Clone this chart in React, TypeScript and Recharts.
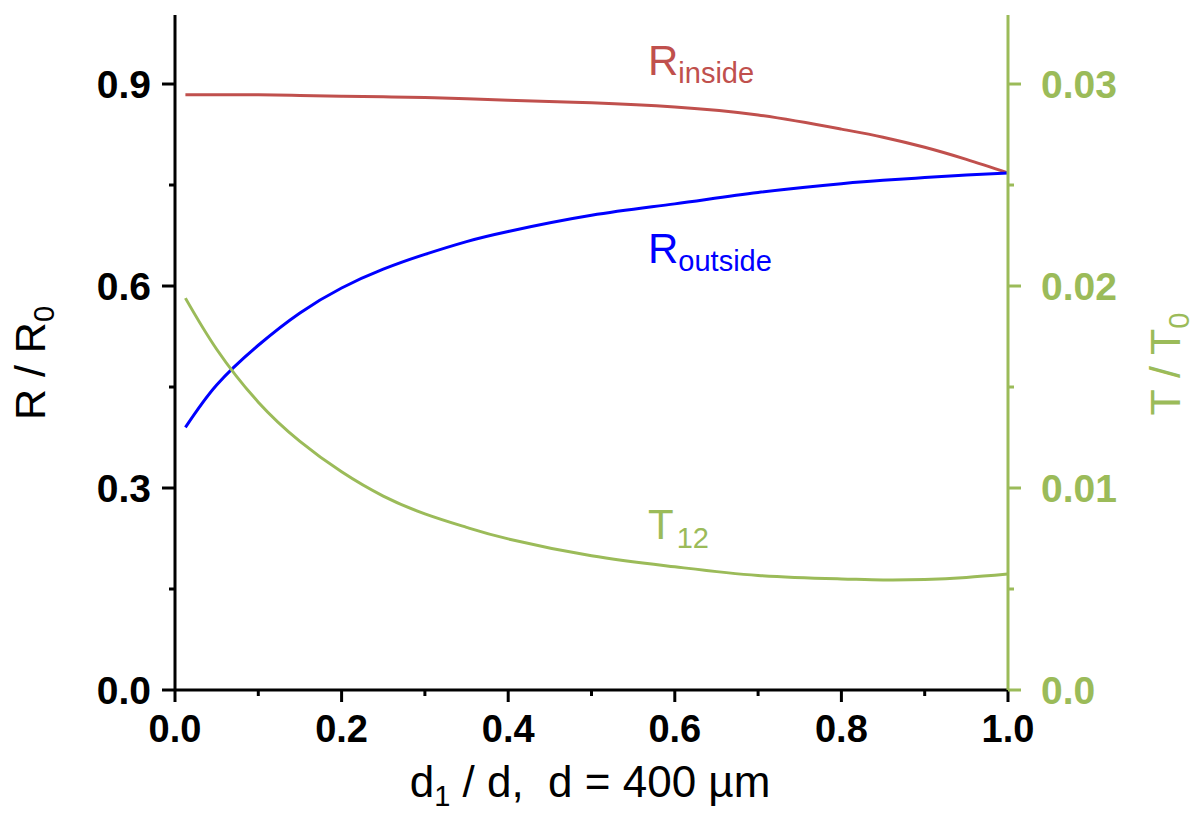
import { LineChart, Line, XAxis, YAxis } from "recharts"

// d1/d sample positions
const xValues = [0.0125, 0.05, 0.1, 0.15, 0.2, 0.25, 0.3, 0.35, 0.4, 0.5, 0.6, 0.7, 0.8, 0.85, 0.9, 0.95, 1.0]
// R / R0
const rInside = [0.884, 0.884, 0.884, 0.883, 0.882, 0.881, 0.880, 0.878, 0.876, 0.872, 0.866, 0.854, 0.833, 0.821, 0.806, 0.788, 0.768]
const rOutside = [0.390, 0.453, 0.512, 0.560, 0.597, 0.625, 0.647, 0.666, 0.681, 0.705, 0.722, 0.739, 0.752, 0.757, 0.761, 0.765, 0.768]
// T / T0
const t12 = [0.0194, 0.01687, 0.01425, 0.01231, 0.01080, 0.00960, 0.00872, 0.00805, 0.00748, 0.00665, 0.00610, 0.00567, 0.00550, 0.00545, 0.00547, 0.00557, 0.00574]

const xMajorTicks = [0, 0.2, 0.4, 0.6, 0.8, 1.0]
const xMinorTicks = [0.1, 0.3, 0.5, 0.7, 0.9]
const leftMajorTicks = [0, 0.3, 0.6, 0.9]
const leftMinorTicks = [0.15, 0.45, 0.75]
const rightMajorTicks = [0, 0.01, 0.02, 0.03]
const rightMinorTicks = [0.005, 0.015, 0.025]

const data = xValues.map((x, i) => ({ x, rInside: rInside[i], rOutside: rOutside[i], t12: t12[i] }))

const FONT = "'Liberation Sans', Arial, sans-serif"
const RED = "#c0504d"
const BLUE = "#0000ff"
const GREEN = "#9bbb59"

const isMajor = (v: number, majors: number[]) => majors.some((m) => Math.abs(m - v) < 1e-9)
const sortTicks = (a: number[], b: number[]) => [...a, ...b].sort((p, q) => p - q)

function LeftTick({ x, y, payload }: any) {
  const major = isMajor(payload.value, leftMajorTicks)
  return (
    <g>
      <line x1={x} x2={x - (major ? 13 : 6)} y1={y} y2={y} stroke="#000" strokeWidth={3} />
      {major && (
        <text x={x - 24} y={y} textAnchor="end" dominantBaseline="central" fontFamily={FONT} fontWeight="bold" fontSize={39} fill="#000">
          {payload.value.toFixed(1)}
        </text>
      )}
    </g>
  )
}

function RightTick({ x, y, payload }: any) {
  const major = isMajor(payload.value, rightMajorTicks)
  return (
    <g>
      <line x1={x} x2={x + (major ? 13 : 6)} y1={y} y2={y} stroke={GREEN} strokeWidth={3} />
      {major && (
        <text x={x + 33} y={y} textAnchor="start" dominantBaseline="central" fontFamily={FONT} fontWeight="bold" fontSize={39} fill={GREEN}>
          {payload.value === 0 ? "0.0" : payload.value.toFixed(2)}
        </text>
      )}
    </g>
  )
}

function BottomTick({ x, y, payload }: any) {
  const major = isMajor(payload.value, xMajorTicks)
  return (
    <g>
      <line x1={x} x2={x} y1={y} y2={y + (major ? 12 : 6)} stroke="#000" strokeWidth={3} />
      {major && (
        <text x={x} y={y + 52} textAnchor="middle" fontFamily={FONT} fontWeight="bold" fontSize={38} fill="#000">
          {payload.value.toFixed(1)}
        </text>
      )}
    </g>
  )
}

export default function App() {
  return (
    <div style={{ position: "absolute", left: 0, top: 0, width: 1196, height: 821, background: "#fff" }}>
      <LineChart width={1196} height={821} data={data} margin={{ top: 15, right: 128, bottom: 71, left: 115 }}>
        <XAxis
          type="number"
          dataKey="x"
          domain={[0, 1]}
          ticks={sortTicks(xMajorTicks, xMinorTicks)}
          interval={0}
          height={60}
          tickSize={0}
          tickMargin={0}
          tickLine={false}
          axisLine={{ stroke: "#000", strokeWidth: 3 }}
          tick={<BottomTick />}
        />
        <YAxis
          yAxisId="r"
          type="number"
          domain={[0, 1.0025]}
          ticks={sortTicks(leftMajorTicks, leftMinorTicks)}
          interval={0}
          width={60}
          tickSize={0}
          tickMargin={0}
          tickLine={false}
          axisLine={{ stroke: "#000", strokeWidth: 3 }}
          tick={<LeftTick />}
        />
        <YAxis
          yAxisId="t"
          orientation="right"
          type="number"
          domain={[0, 1.0025 / 30]}
          ticks={sortTicks(rightMajorTicks, rightMinorTicks)}
          interval={0}
          width={60}
          tickSize={0}
          tickMargin={0}
          tickLine={false}
          axisLine={{ stroke: GREEN, strokeWidth: 3 }}
          tick={<RightTick />}
        />
        <Line yAxisId="r" type="natural" dataKey="rInside" stroke={RED} strokeWidth={3} dot={false} isAnimationActive={false} />
        <Line yAxisId="r" type="natural" dataKey="rOutside" stroke={BLUE} strokeWidth={3} dot={false} isAnimationActive={false} />
        <Line yAxisId="t" type="natural" dataKey="t12" stroke={GREEN} strokeWidth={3} dot={false} isAnimationActive={false} />
      </LineChart>
      <svg width={1196} height={821} style={{ position: "absolute", left: 0, top: 0, pointerEvents: "none" }} fontFamily={FONT}>
        <text x={648} y={75} fontSize={42} fill={RED}>
          R<tspan fontSize={29} dy={8}>inside</tspan>
        </text>
        <text x={648} y={263} fontSize={42} fill={BLUE}>
          R<tspan fontSize={29} dy={8}>outside</tspan>
        </text>
        <text x={648} y={539} fontSize={42} fill={GREEN}>
          T<tspan fontSize={29} dy={9} dx={3}>12</tspan>
        </text>
        <text x={590} y={797} textAnchor="middle" fontSize={44} fill="#000" style={{ whiteSpace: "pre" }}>
          d<tspan fontSize={29} dy={9}>1</tspan>
          <tspan dy={-9}>{" / d,  d = 400 µm"}</tspan>
        </text>
        <text x={45} y={363} transform="rotate(-90, 45, 363)" textAnchor="middle" fontSize={43} fill="#000">
          R / R<tspan fontSize={29} dy={9}>0</tspan>
        </text>
        <text x={1180} y={364} transform="rotate(-90, 1180, 364)" textAnchor="middle" fontSize={43} fill={GREEN}>
          T / T<tspan fontSize={29} dy={9}>0</tspan>
        </text>
      </svg>
    </div>
  )
}
